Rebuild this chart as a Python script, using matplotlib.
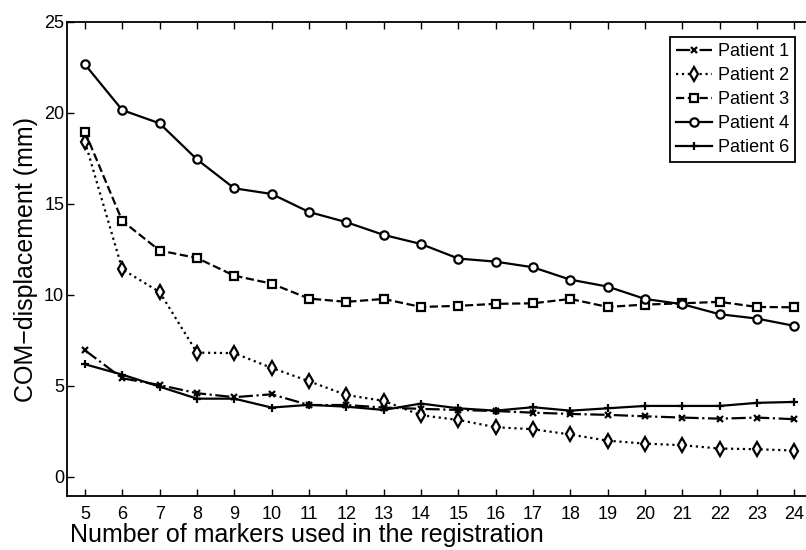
import numpy as np
import matplotlib
matplotlib.use("Agg")
import matplotlib.pyplot as plt

plt.rcParams['font.family'] = ['Liberation Sans', 'DejaVu Sans']

# number of markers used in the registration
n_markers = np.arange(5, 25)

# COM displacement (mm) per patient
patient1 = [6.96, 5.42, 5.05, 4.60, 4.38, 4.54, 3.95, 3.95, 3.81, 3.74,
            3.68, 3.62, 3.53, 3.46, 3.41, 3.33, 3.26, 3.20, 3.26, 3.17]
patient2 = [18.43, 11.41, 10.16, 6.83, 6.80, 5.99, 5.26, 4.50, 4.18, 3.39,
            3.13, 2.73, 2.62, 2.33, 1.99, 1.83, 1.74, 1.56, 1.52, 1.45]
patient3 = [18.97, 14.07, 12.44, 12.03, 11.06, 10.62, 9.80, 9.62, 9.78, 9.34,
            9.40, 9.51, 9.54, 9.78, 9.34, 9.47, 9.54, 9.62, 9.34, 9.32]
patient4 = [22.67, 20.16, 19.43, 17.45, 15.86, 15.55, 14.56, 14.00, 13.30, 12.80,
            12.00, 11.83, 11.52, 10.84, 10.46, 9.78, 9.49, 8.94, 8.70, 8.30]
patient6 = [6.19, 5.62, 4.96, 4.30, 4.30, 3.81, 3.96, 3.86, 3.68, 4.03,
            3.77, 3.64, 3.83, 3.64, 3.77, 3.90, 3.90, 3.90, 4.07, 4.12]

fig = plt.figure(figsize=(8.06, 5.5), dpi=100)
ax = fig.add_axes([67 / 806, 1 - 496 / 550, 746 / 806, 474 / 550])

lw = 1.6
common = dict(color='black', lw=lw, mfc='white', mec='black', mew=1.6)
ax.plot(n_markers, patient1, linestyle='-.', marker='x', ms=4.5, label='Patient 1', **common)
ax.plot(n_markers, patient2, linestyle=':', marker='d', ms=7, label='Patient 2', **common)
ax.plot(n_markers, patient3, linestyle='--', marker='s', ms=5.5, label='Patient 3', **common)
ax.plot(n_markers, patient4, linestyle='-', marker='o', ms=6, label='Patient 4', **common)
ax.plot(n_markers, patient6, linestyle='-', marker='+', ms=6, label='Patient 6', **common)

ax.set_xlim(4.52, 24.5)
ax.set_ylim(-1.05, 25)
ax.set_xticks(n_markers)
ax.set_yticks([0, 5, 10, 15, 20, 25])

ax.tick_params(direction='in', length=5, width=1, labelsize=13, pad=7,
               top=True, right=True)
ax.tick_params(axis='y', pad=2)
for s in ax.spines.values():
    s.set_linewidth(1.3)

ax.set_xlabel('Number of markers used in the registration', fontsize=18, loc='left')
ax.xaxis.set_label_coords(0.004, -0.058)
ax.set_ylabel('COM\u2212displacement (mm)', fontsize=18)
ax.yaxis.set_label_coords(-0.039, 0.5)

leg = ax.legend(loc='upper right', bbox_to_anchor=(0.976, 0.968), borderaxespad=0,
                fontsize=13, fancybox=False, edgecolor='black', framealpha=1,
                handlelength=2.0, handletextpad=0.3, labelspacing=0.38,
                borderpad=0.35)
leg.get_frame().set_linewidth(1.3)

fig.savefig('out.png', dpi=100)
